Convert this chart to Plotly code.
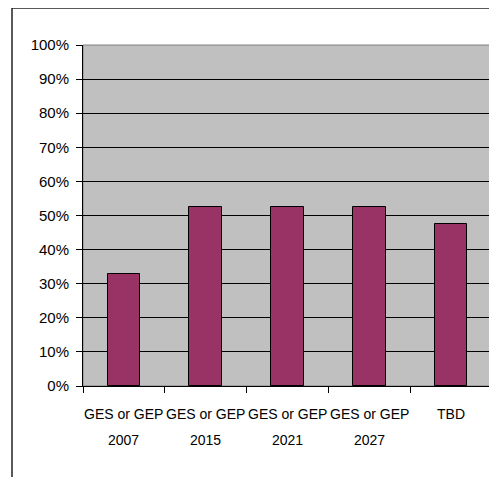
import plotly.graph_objects as go

categories = ["GES or GEP", "GES or GEP", "GES or GEP", "GES or GEP", "TBD"]
years = ["2007", "2015", "2021", "2027", ""]
values = [32.8, 52.5, 52.6, 52.6, 47.4]
y_ticks = [0, 10, 20, 30, 40, 50, 60, 70, 80, 90, 100]
y_tick_labels = [f"{v}%" for v in y_ticks]

FONT = "Liberation Sans, Arial, sans-serif"

OFF = 8  # page body margin
W, H = 489, 469
# plot area in screen pixels
SL, SR, ST, SB = 83, 492, 45, 386
L, T = SL - OFF, ST - OFF
R = W - (SR - OFF)
B = H - (SB - OFF)
pw, ph = W - L - R, H - T - B

def px_x(p):
    return (p - OFF - L) / pw

def px_y(p):
    return (SB - p) / ph

xs = list(range(len(values)))

fig = go.Figure()
fig.add_trace(go.Bar(
    x=xs, y=values, width=0.4,
    marker=dict(color="#993366", line=dict(color="black", width=1)),
    hoverinfo="skip",
))

annotations = []
for i, (c, yr) in enumerate(zip(categories, years)):
    annotations.append(dict(x=i, y=px_y(414), xref="x", yref="paper", text=c,
                            showarrow=False, yanchor="middle",
                            font=dict(family=FONT, size=14, color="black")))
    if yr:
        annotations.append(dict(x=i, y=px_y(440), xref="x", yref="paper", text=yr,
                                showarrow=False, yanchor="middle",
                                font=dict(family=FONT, size=14, color="black")))

border = dict(color="#222222", width=1.5)
fig.update_layout(
    width=W, height=H,
    margin=dict(l=L, r=R, t=T, b=B, autoexpand=False),
    paper_bgcolor="white",
    plot_bgcolor="#C0C0C0",
    showlegend=False,
    bargap=0,
    annotations=annotations,
    shapes=[
        dict(type="line", xref="paper", yref="paper",
             x0=px_x(12), x1=px_x(12), y0=px_y(520), y1=px_y(8),
             line=border, layer="below"),
        dict(type="line", xref="paper", yref="paper",
             x0=px_x(12), x1=px_x(530), y0=px_y(8), y1=px_y(8),
             line=border, layer="below"),
        dict(type="rect", xref="paper", yref="paper",
             x0=0, x1=1, y0=0, y1=1,
             line=dict(color="#808080", width=1), layer="below"),
    ],
    xaxis=dict(
        range=[-0.5, len(values) - 0.5],
        tickvals=[i - 0.5 for i in range(len(values) + 1)],
        ticktext=["" for _ in range(len(values) + 1)],
        ticks="outside", ticklen=6, tickcolor="black", tickwidth=1,
        showgrid=False, zeroline=False,
        showline=True, linecolor="black", linewidth=1,
        fixedrange=True,
    ),
    yaxis=dict(
        range=[0, 100],
        tickvals=y_ticks, ticktext=y_tick_labels,
        ticks="outside", ticklen=6, tickcolor="black", tickwidth=1,
        showgrid=True, gridcolor="black", gridwidth=1,
        zeroline=False,
        showline=True, linecolor="black", linewidth=1,
        tickfont=dict(family=FONT, size=15, color="black"),
        ticklabelstandoff=4,
        fixedrange=True,
    ),
)

fig.write_html("out.html", post_script="document.documentElement.style.overflow='hidden';")
